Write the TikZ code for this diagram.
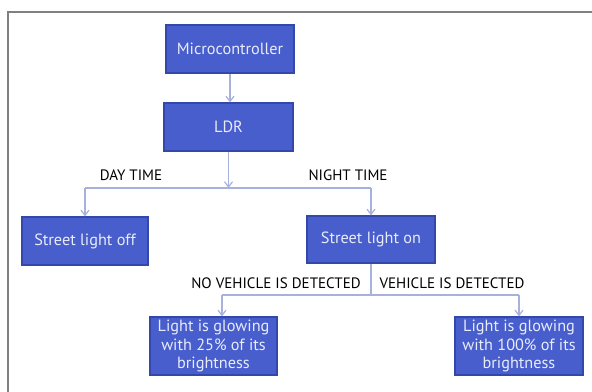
\documentclass[tikz,border=0pt]{standalone}
\usepackage{fontspec}
\setmainfont{PT Sans}
\usetikzlibrary{arrows.meta}
\definecolor{boxblue}{RGB}{72,94,204}
\definecolor{boxedge}{RGB}{52,72,170}
\definecolor{boxtext}{RGB}{232,236,250}
\definecolor{conn}{RGB}{168,176,222}
\definecolor{frame}{RGB}{128,128,128}
\tikzset{
  flowbox/.style={draw=boxedge, line width=0.8pt, fill=boxblue, text=boxtext,
    inner sep=0pt, align=center, font=\fontsize{12.2}{14}\selectfont},
  conline/.style={draw=conn, line width=1.1pt},
  conarrow/.style={conline, -{Straight Barb[length=4pt,width=6pt,line width=0.9pt]}},
  lab/.style={font=\fontsize{11.3}{12}\selectfont, text=black, inner sep=0pt}
}
\begin{document}
\begin{tikzpicture}[x=0.75pt,y=-0.75pt]
\useasboundingbox (0,0) rectangle (592,392);
\draw[frame, line width=1.3pt] (8,392) -- (8,12) -- (592,12);

\node[flowbox, minimum width=128*0.75pt, minimum height=48*0.75pt] (mc) at (230,49) {Microcontroller};
\node[flowbox, minimum width=129*0.75pt, minimum height=48*0.75pt] (ldr) at (228.5,127) {LDR};
\node[flowbox, minimum width=126*0.75pt, minimum height=48*0.75pt] (off) at (85,241) {Street light off};
\node[flowbox, minimum width=128*0.75pt, minimum height=47*0.75pt] (on) at (371,239.5) {Street light on};
\node[flowbox, minimum width=127*0.75pt, minimum height=58*0.75pt] (b25) at (213.5,346) {Light is glowing\\with 25\% of its\\brightness};
\node[flowbox, minimum width=128*0.75pt, minimum height=58*0.75pt] (b100) at (519,346) {Light is glowing\\with 100\% of its\\brightness};

\coordinate (j1) at (ldr.south |- 0,188);
\coordinate (j1l) at (off.north |- j1);
\coordinate (j1r) at (on.north |- j1);
\coordinate (j2) at (on.south |- 0,295);
\coordinate (j2l) at (222,295);
\coordinate (j2r) at (b100.north |- j2);
\coordinate (b25top) at (j2l |- b25.north);

\draw[conarrow] (mc.south -| 230,0) -- (ldr.north -| 230,0);
\draw[conarrow] (ldr.south) -- (j1);
\draw[conline] (j1l) -- (j1r);
\draw[conarrow] (j1l) -- (off.north);
\draw[conarrow] (j1r) -- (on.north);
\draw[conline] (on.south) -- (j2);
\draw[conline] (j2l) -- (j2r);
\draw[conarrow] (j2l) -- (b25top);
\draw[conarrow] (j2r) -- (b100.north);

\node[lab] (day) at (131,175) {DAY TIME};
\node[lab] (night) at (348,175) {NIGHT TIME};
\node[lab] (nov) at (276,283) {NO VEHICLE IS DETECTED};
\node[lab] (veh) at (452,283) {VEHICLE IS DETECTED};
\end{tikzpicture}
\end{document}
